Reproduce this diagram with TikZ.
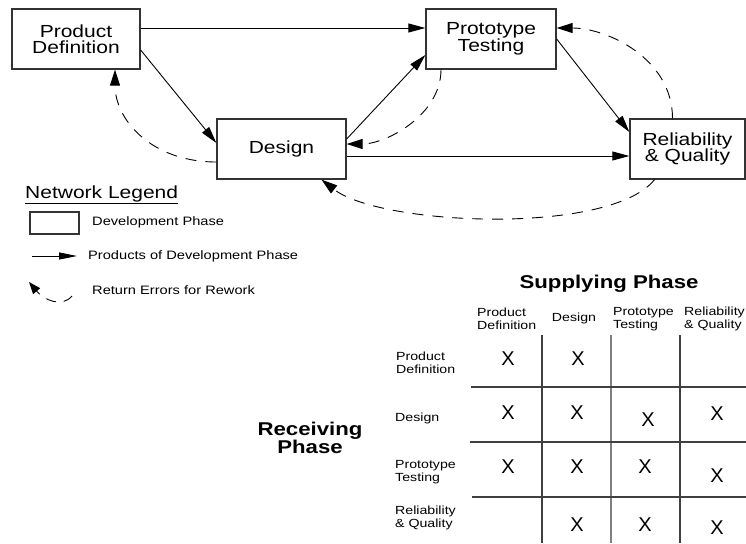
\documentclass[tikz,border=0pt]{standalone}
\usepackage{fontspec}
\setmainfont{Liberation Sans}[FakeStretch=1.2]
\newfontfamily\xfont{Liberation Sans}
\usetikzlibrary{arrows.meta}

\tikzset{
  phase/.style={draw=black!80, line width=1.3pt, minimum height=60pt, inner sep=0pt,
    align=center, font=\fontsize{17.5}{16.5}\selectfont},
  flow/.style={-{Triangle[length=17pt,width=9pt]}, line width=0.9pt},
  rework/.style={-{Triangle[length=16pt,width=10pt]}, line width=0.9pt, dash pattern=on 11pt off 9pt},
  legtext/.style={font=\fontsize{12.2}{13}\selectfont, inner sep=0pt, anchor=west},
  tbltext/.style={font=\fontsize{11.8}{12.8}\selectfont, inner sep=0pt, align=left},
  bigtext/.style={font=\bfseries\fontsize{18.5}{17}\selectfont, inner sep=0pt, align=center},
  xx/.style={font=\xfont\fontsize{20}{20}\selectfont, inner sep=0pt},
  cell/.style={draw=black!75, line width=1.3pt}
}

\begin{document}
\begin{tikzpicture}[x=1pt, y=-1pt]
\useasboundingbox (0,0) rectangle (746,543);

\node[phase, minimum width=128pt] (pdef) at (76,39) {Product\\Definition};
\node[phase, minimum width=129pt] (design) at (281.5,149) {Design};
\node[phase, minimum width=130pt] (proto) at (491,39) {Prototype\\Testing};
\node[phase, minimum width=115pt] (relq) at (687.5,149) {Reliability\\\& Quality};

% products
\draw[flow] ([yshift=11pt]pdef.east) -- ([yshift=11pt]proto.west);
\draw[flow] ([yshift=-11pt]pdef.east) -- ([yshift=6pt]design.west);
\draw[flow] ([yshift=10pt]design.east) -- ([yshift=-16pt]proto.west);
\draw[flow] ([yshift=-7pt]design.east) -- ([yshift=-7pt]relq.west);
\draw[flow] (proto.east) -- ([yshift=17pt]relq.west);

% rework
\draw[rework] ([yshift=-13pt]design.west) .. controls +(-65,0) and +(0,50) .. ([xshift=39pt]pdef.south);
\draw[rework] ([xshift=-50pt]proto.south) .. controls +(0,45) and +(40,0) .. ([yshift=5pt]design.east);
\draw[rework] ([xshift=-15pt]relq.north) .. controls +(0,-60) and +(50,0) .. ([yshift=11pt]proto.east);
\draw[rework] ([xshift=-33pt]relq.south) .. controls +(-45,56) and +(59,46) .. ([xshift=40pt]design.south);

% legend
\node[anchor=base west, inner sep=0pt, font=\fontsize{17.5}{18}\selectfont] (legtitle) at (25,198) {\underline{Network Legend}};
\node[draw=black!80, line width=1.2pt, minimum width=49pt, minimum height=22pt, inner sep=0pt] (legbox) at (54.5,223) {};
\node[legtext] (legboxtxt) at (92,222) {Development Phase};
\coordinate (legfrom) at (32,256);
\coordinate (legto) at (77,256);
\draw[-{Triangle[length=18pt,width=7pt]}, line width=0.9pt] (legfrom) -- (legto);
\node[legtext] (legflowtxt) at (88,256) {Products of Development Phase};
\coordinate (retfrom) at (72,296);
\coordinate (retto) at (29,282);
\draw[rework, -{Triangle[length=12pt,width=9pt]}, dash pattern=on 10pt off 8pt] (retfrom) .. controls +(-10,12) and +(15,18) .. (retto);
\node[legtext] (legrettxt) at (92,290) {Return Errors for Rework};

% matrix
\node[bigtext, anchor=base] (supply) at (609,288) {Supplying Phase};
\node[bigtext] (receive) at (310,438) {Receiving\\Phase};

\node[tbltext, anchor=west] (hpdef) at (477,319) {Product\\Definition};
\node[tbltext] (hdesign) at (574,318) {Design};
\node[tbltext, anchor=west] (hproto) at (613,319) {Prototype\\Testing};
\node[tbltext, anchor=west] (hrelq) at (684,319) {Reliability\\\& Quality};

\node[tbltext, anchor=west] (rpdef) at (396,363) {Product\\Definition};
\node[tbltext, anchor=west] (rdesign) at (395,418) {Design};
\node[tbltext, anchor=west] (rproto) at (395,472) {Prototype\\Testing};
\node[tbltext, anchor=west] (rrelq) at (395,518) {Reliability\\\& Quality};

\draw[cell] (542,335) -- (542,543);
\draw[cell, draw=black!50, line width=2pt] (611,335) -- (611,543);
\draw[cell] (680,335) -- (680,543);
\draw[cell] (471,387) -- (746,387);
\draw[cell] (470,442) -- (746,442);
\draw[cell] (472,497) -- (746,497);

\node[xx] (x11) at (508,359) {X};
\node[xx] (x12) at (578,359) {X};
\node[xx] (x21) at (508,413) {X};
\node[xx] (x22) at (577,413) {X};
\node[xx] (x23) at (648,420) {X};
\node[xx] (x24) at (717,414) {X};
\node[xx] (x31) at (508,467) {X};
\node[xx] (x32) at (577,467) {X};
\node[xx] (x33) at (645,467) {X};
\node[xx] (x34) at (717,476) {X};
\node[xx] (x42) at (577,525) {X};
\node[xx] (x43) at (645,525) {X};
\node[xx] (x44) at (717,528) {X};

\end{tikzpicture}
\end{document}
